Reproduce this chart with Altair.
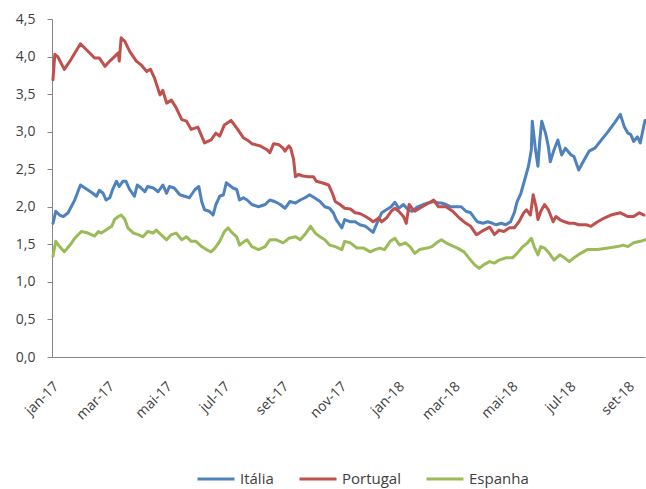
import altair as alt
import pandas as pd

# 10-year government bond yields (%), read as days since 1 Jan 2017
INICIO = pd.Timestamp("2017-01-01")

paises = ["Itália", "Portugal", "Espanha"]
cores = ["#4F81BD", "#C0504D", "#9BBB59"]
meses = ["jan", "fev", "mar", "abr", "mai", "jun", "jul", "ago", "set", "out", "nov", "dez"]
marcas_x = [(2017, 1), (2017, 3), (2017, 5), (2017, 7), (2017, 9), (2017, 11),
            (2018, 1), (2018, 3), (2018, 5), (2018, 7), (2018, 9)]
marcas_y = [0.0, 0.5, 1.0, 1.5, 2.0, 2.5, 3.0, 3.5, 4.0, 4.5]

italia_dias = [
    1, 4, 8, 12, 17, 24, 30, 36, 43, 47,
    50, 54, 57, 61, 64, 68, 71, 75, 78, 82,
    87, 90, 94, 98, 101, 107, 112, 117, 121, 124,
    129, 135, 140, 145, 151, 155, 158, 161, 166, 170,
    173, 177, 181, 184, 188, 191, 195, 198, 202, 206,
    211, 218, 225, 230, 235, 241, 246, 251, 257, 262,
    267, 272, 277, 283, 288, 293, 297, 300, 306, 309,
    315, 320, 325, 331, 336, 339, 343, 348, 353, 358,
    362, 366, 371, 376, 380, 386, 392, 397, 403, 408,
    411, 416, 421, 427, 432, 437, 442, 446, 449, 455,
    460, 465, 469, 474, 479, 484, 488, 491, 495, 499,
    503, 506, 507, 510, 513, 515, 517, 521, 524, 526,
    530, 534, 538, 542, 548, 551, 556, 562, 567, 573,
    580, 587, 594, 600, 604, 608, 611, 614, 618, 621,
    626,
]
italia_taxa = [
    1.78, 1.94, 1.89, 1.87, 1.92, 2.09, 2.29, 2.24, 2.18, 2.14,
    2.22, 2.18, 2.09, 2.12, 2.23, 2.34, 2.27, 2.34, 2.34, 2.23,
    2.14, 2.29, 2.25, 2.20, 2.27, 2.25, 2.20, 2.29, 2.18, 2.27,
    2.25, 2.16, 2.14, 2.12, 2.23, 2.27, 2.07, 1.96, 1.94, 1.89,
    2.03, 2.14, 2.16, 2.32, 2.28, 2.25, 2.23, 2.09, 2.12, 2.09,
    2.03, 2.00, 2.03, 2.09, 2.07, 2.03, 1.98, 2.07, 2.05, 2.09,
    2.12, 2.16, 2.12, 2.07, 2.00, 1.98, 1.92, 1.83, 1.72, 1.83,
    1.80, 1.80, 1.76, 1.74, 1.69, 1.66, 1.78, 1.92, 1.96, 2.00,
    2.06, 1.98, 2.03, 1.96, 1.94, 2.00, 2.03, 2.05, 2.07, 2.05,
    2.05, 2.03, 2.00, 2.00, 2.00, 1.94, 1.92, 1.85, 1.80, 1.78,
    1.80, 1.78, 1.76, 1.78, 1.76, 1.80, 1.92, 2.07, 2.18, 2.36,
    2.54, 2.76, 3.14, 2.80, 2.54, 2.89, 3.14, 2.98, 2.80, 2.60,
    2.76, 2.89, 2.69, 2.78, 2.69, 2.67, 2.49, 2.63, 2.74, 2.78,
    2.89, 3.00, 3.12, 3.23, 3.07, 2.98, 2.96, 2.87, 2.93, 2.85,
    3.15,
]

portugal_dias = [
    1, 3, 6, 13, 20, 30, 38, 45, 50, 56,
    61, 66, 70, 71, 73, 77, 82, 89, 94, 100,
    104, 108, 114, 117, 121, 126, 131, 137, 142, 147,
    154, 161, 168, 173, 177, 182, 189, 196, 202, 206,
    211, 220, 227, 230, 234, 239, 244, 246, 250, 252,
    255, 257, 260, 265, 271, 276, 279, 285, 292, 296,
    299, 304, 309, 315, 320, 325, 331, 336, 339, 345,
    348, 353, 358, 362, 366, 371, 374, 377, 380, 383,
    388, 395, 403, 408, 416, 423, 430, 437, 442, 448,
    451, 456, 462, 467, 472, 477, 483, 488, 493, 498,
    501, 505, 508, 511, 513, 516, 520, 524, 529, 532,
    536, 541, 546, 551, 556, 564, 569, 576, 583, 590,
    600, 608, 614, 620, 625,
]
portugal_taxa = [
    3.69, 4.03, 4.00, 3.83, 3.96, 4.17, 4.07, 3.98, 3.98, 3.87,
    3.94, 4.00, 4.05, 3.94, 4.25, 4.20, 4.07, 3.94, 3.89, 3.80,
    3.83, 3.72, 3.49, 3.55, 3.38, 3.42, 3.32, 3.16, 3.14, 3.03,
    3.06, 2.85, 2.89, 2.98, 2.94, 3.09, 3.15, 3.03, 2.92, 2.89,
    2.84, 2.81, 2.76, 2.72, 2.84, 2.83, 2.78, 2.74, 2.81, 2.78,
    2.63, 2.40, 2.43, 2.41, 2.40, 2.40, 2.34, 2.32, 2.29, 2.18,
    2.07, 2.03, 1.98, 1.97, 1.92, 1.91, 1.87, 1.83, 1.80, 1.85,
    1.80, 1.85, 1.94, 1.98, 1.94, 1.87, 1.78, 2.03, 1.98, 1.94,
    1.98, 2.03, 2.09, 2.00, 2.00, 1.94, 1.85, 1.78, 1.74, 1.63,
    1.65, 1.69, 1.73, 1.63, 1.69, 1.67, 1.72, 1.72, 1.80, 1.92,
    1.96, 1.89, 2.16, 2.00, 1.83, 1.94, 2.03, 1.96, 1.80, 1.87,
    1.83, 1.80, 1.78, 1.78, 1.76, 1.76, 1.74, 1.80, 1.85, 1.89,
    1.92, 1.87, 1.87, 1.92, 1.89,
]

espanha_dias = [
    1, 4, 8, 13, 19, 24, 31, 38, 45, 49,
    52, 57, 63, 66, 70, 73, 77, 80, 86, 91,
    96, 101, 107, 110, 115, 121, 126, 131, 137, 142,
    147, 152, 158, 163, 168, 172, 177, 182, 186, 189,
    195, 198, 203, 206, 211, 218, 225, 230, 237, 244,
    250, 257, 262, 267, 273, 278, 283, 288, 293, 299,
    306, 309, 315, 322, 329, 336, 341, 346, 351, 357,
    362, 367, 373, 378, 383, 388, 396, 401, 406, 411,
    416, 421, 428, 435, 440, 446, 451, 456, 462, 467,
    472, 479, 486, 491, 497, 502, 506, 509, 513, 516,
    520, 525, 530, 536, 541, 546, 551, 558, 565, 576,
    587, 597, 603, 608, 614, 621, 626,
]
espanha_taxa = [
    1.34, 1.54, 1.47, 1.40, 1.49, 1.58, 1.67, 1.65, 1.61, 1.67,
    1.65, 1.69, 1.74, 1.83, 1.87, 1.89, 1.83, 1.72, 1.65, 1.63,
    1.60, 1.67, 1.65, 1.69, 1.63, 1.56, 1.63, 1.65, 1.56, 1.60,
    1.54, 1.54, 1.47, 1.43, 1.40, 1.45, 1.54, 1.67, 1.72, 1.67,
    1.60, 1.49, 1.54, 1.56, 1.47, 1.43, 1.47, 1.56, 1.56, 1.52,
    1.58, 1.60, 1.56, 1.63, 1.74, 1.65, 1.60, 1.56, 1.49, 1.47,
    1.43, 1.54, 1.52, 1.45, 1.45, 1.40, 1.43, 1.45, 1.43, 1.54,
    1.58, 1.49, 1.52, 1.47, 1.38, 1.43, 1.45, 1.47, 1.52, 1.56,
    1.52, 1.49, 1.45, 1.40, 1.32, 1.23, 1.18, 1.23, 1.27, 1.25,
    1.29, 1.32, 1.32, 1.38, 1.47, 1.52, 1.58, 1.47, 1.36, 1.47,
    1.45, 1.38, 1.29, 1.36, 1.32, 1.27, 1.32, 1.38, 1.43, 1.43,
    1.45, 1.47, 1.49, 1.47, 1.52, 1.54, 1.56,
]

series = [
    ("Itália", italia_dias, italia_taxa),
    ("Portugal", portugal_dias, portugal_taxa),
    ("Espanha", espanha_dias, espanha_taxa),
]
df = pd.concat(
    [
        pd.DataFrame({
            "data": INICIO + pd.to_timedelta(dias, unit="D"),
            "taxa": taxas,
            "pais": pais,
        })
        for pais, dias, taxas in series
    ],
    ignore_index=True,
)

fonte = "Open Sans"
cor_texto = "#404040"
cor_eixo = "#868686"

rotulo_mes = (
    "[" + ",".join(f"'{m}'" for m in meses) + "][month(datum.value)]"
    " + '-' + timeFormat(datum.value, '%y')"
)

eixo_x = alt.X(
    "data:T",
    title=None,
    scale=alt.Scale(
        domain=[alt.DateTime(year=2017, month=1, date=1),
                alt.DateTime(year=2018, month=9, date=19)],
        nice=False,
    ),
    axis=alt.Axis(
        values=[alt.DateTime(year=a, month=m, date=1) for a, m in marcas_x],
        labelExpr=rotulo_mes,
        labelAngle=-45,
        labelAlign="right",
        labelBaseline="middle",
        labelPadding=27,
        labelOffset=4,
        ticks=False,
        tickSize=0,
        grid=False,
        domainColor=cor_eixo,
        labelFont=fonte,
        labelFontSize=14,
        labelColor=cor_texto,
        labelOverlap=False,
        labelFlush=False,
        labelBound=False,
    ),
)

eixo_y = alt.Y(
    "taxa:Q",
    title=None,
    scale=alt.Scale(domain=[0, 4.5], nice=False),
    axis=alt.Axis(
        values=marcas_y,
        labelExpr="replace(format(datum.value, '.1f'), '.', ',')",
        grid=False,
        tickSize=5,
        tickColor=cor_eixo,
        domainColor=cor_eixo,
        labelPadding=12,
        labelFont=fonte,
        labelFontSize=14,
        labelColor=cor_texto,
        labelFlush=False,
    ),
)

cor = alt.Color(
    "pais:N",
    sort=paises,
    scale=alt.Scale(domain=paises, range=cores),
    legend=alt.Legend(
        title=None,
        orient="none",
        direction="horizontal",
        legendX=144,
        legendY=440,
        symbolType="stroke",
        symbolSize=1369,
        symbolStrokeWidth=3,
        labelFont=fonte,
        labelFontSize=15,
        labelColor=cor_texto,
        labelOffset=4,
        columnPadding=19,
        padding=0,
    ),
)

chart = (
    alt.Chart(df)
    .mark_line(strokeWidth=3, strokeJoin="round", strokeCap="round")
    .encode(x=eixo_x, y=eixo_y, color=cor, detail="pais:N")
    .properties(
        width=593,
        height=338,
        padding={"left": 52, "top": 19, "right": 1, "bottom": 132},
        autosize=alt.AutoSizeParams(type="none"),
        background="white",
    )
    .configure_view(stroke=None)
)

chart.save("out.html", embed_options={"renderer": "svg", "actions": False})
